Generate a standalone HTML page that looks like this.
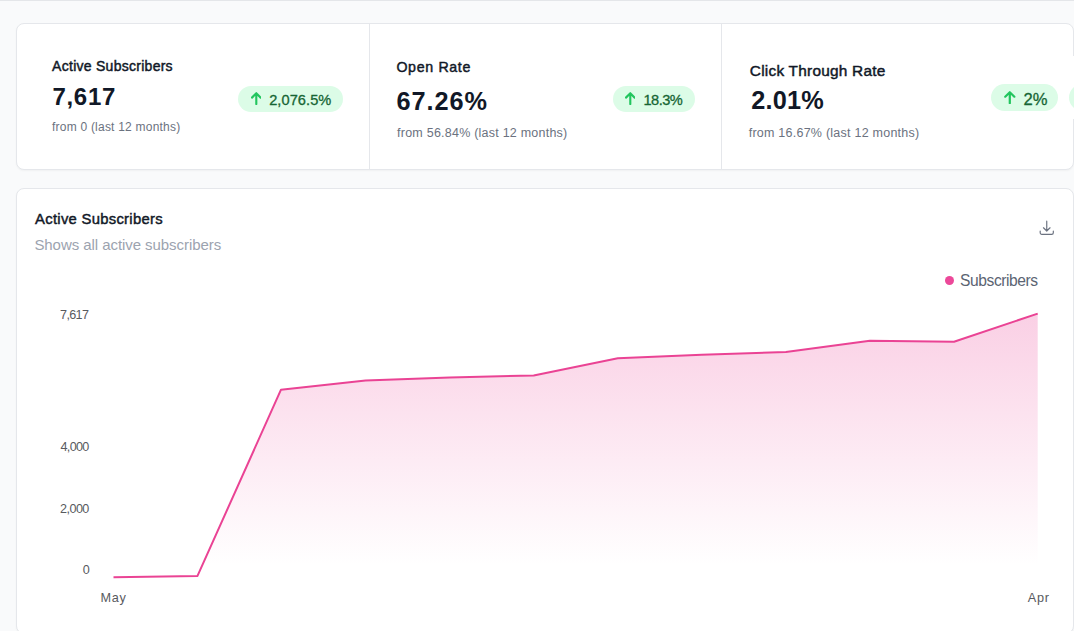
<!DOCTYPE html>
<html lang="en">
<head>
<meta charset="utf-8">
<title>Subscribers Dashboard</title>
<style>
*{box-sizing:border-box;margin:0;padding:0}
html,body{width:1074px;height:631px;overflow:hidden;background:#f9fafb}
body{position:relative;font-family:"Liberation Sans",sans-serif;color:#111827}
.topline{position:absolute;left:0;top:0;width:1074px;height:1px;background:#e4e6e9}
.card{position:absolute;background:#fff;border:1px solid #e5e7eb;border-radius:8px;box-shadow:0 1px 2px rgba(0,0,0,.04)}
#stats{left:16px;top:23px;width:1058px;height:147px}
#chart{left:16px;top:188px;width:1058px;height:446px}
.divider{position:absolute;top:-1px;width:1px;height:146px;background:#e5e7eb}
.t{position:absolute;white-space:nowrap;line-height:1}
.label{font-weight:400;color:#111827;-webkit-text-stroke:0.45px #111827}
.value{font-weight:700;color:#111827}
.sub{color:#6b7280}
.pill{position:absolute;background:#dcfce7;border-radius:14px}
.pill svg{position:absolute}
.pill .t{color:#166534;-webkit-text-stroke:0.3px #166534}
.axis{color:#585a5e}
</style>
</head>
<body>
<div class="topline"></div>

<main>
<section class="card" id="stats">
<div class="divider" style="left:352px"></div>
<div class="divider" style="left:704px"></div>
<div style="position:absolute;left:1053px;top:32px;width:4px;height:63px;background:#fff"></div>

<article class="stat">
<div class="t label" id="l1" style="left:35.1px;top:34.7px;font-size:14px;letter-spacing:0.27px">Active Subscribers</div>
<div class="t value" id="v1" style="left:35.4px;top:61.1px;font-size:24px;letter-spacing:0.72px">7,617</div>
<div class="t sub" id="s1" style="left:35px;top:96.8px;font-size:12px;letter-spacing:0.22px">from 0 (last 12 months)</div>
<div class="pill" style="left:221px;top:62px;width:105px;height:26px">
  <svg width="10.6" height="13" viewBox="0 0 11 13" preserveAspectRatio="none" style="left:12.6px;top:6.3px"><path d="M5.5 12V1.4M1 5.6L5.5 1.2L10 5.6" fill="none" stroke="#22c55e" stroke-width="2.2" stroke-linecap="round" stroke-linejoin="round"/></svg>
  <span class="t" id="p1" style="left:31.2px;top:6.7px;font-size:14.6px;letter-spacing:0.07px">2,076.5%</span>
</div>

</article>
<article class="stat">
<div class="t label" id="l2" style="left:379.4px;top:35.6px;font-size:14.2px;letter-spacing:0.67px">Open Rate</div>
<div class="t value" id="v2" style="left:379.6px;top:64.6px;font-size:25.3px;letter-spacing:0.94px">67.26%</div>
<div class="t sub" id="s2" style="left:380.1px;top:102.5px;font-size:12.5px;letter-spacing:0.23px">from 56.84% (last 12 months)</div>
<div class="pill" style="left:596px;top:62px;width:82px;height:26px">
  <svg width="10.6" height="13" viewBox="0 0 11 13" preserveAspectRatio="none" style="left:11.6px;top:6.3px"><path d="M5.5 12V1.4M1 5.6L5.5 1.2L10 5.6" fill="none" stroke="#22c55e" stroke-width="2.2" stroke-linecap="round" stroke-linejoin="round"/></svg>
  <span class="t" id="p2" style="left:30.4px;top:6.7px;font-size:14.6px;letter-spacing:-0.49px">18.3%</span>
</div>

</article>
<article class="stat">
<div class="t label" id="l3" style="left:732.8px;top:38.5px;font-size:15.4px;letter-spacing:0.24px">Click Through Rate</div>
<div class="t value" id="v3" style="left:734.2px;top:63.8px;font-size:25.3px;letter-spacing:0.23px">2.01%</div>
<div class="t sub" id="s3" style="left:731.7px;top:102.5px;font-size:12.5px;letter-spacing:0.24px">from 16.67% (last 12 months)</div>
<div class="pill" style="left:973.7px;top:59.8px;width:67.4px;height:27.3px">
  <svg width="11.6" height="13.2" viewBox="0 0 11 13" style="left:13.4px;top:7.5px"><path d="M5.5 12V1.4M1 5.6L5.5 1.2L10 5.6" fill="none" stroke="#22c55e" stroke-width="2.2" stroke-linecap="round" stroke-linejoin="round"/></svg>
  <span class="t" id="p3" style="left:32.8px;top:7.8px;font-size:16.6px;letter-spacing:0.15px">2%</span>
</div>
<div class="pill" style="left:1052px;top:59.8px;width:60px;height:27.3px"></div>
</article>
</section>

<section class="card" id="chart">
<div class="t label" id="ct" style="left:18.1px;top:22.9px;font-size:14.8px;letter-spacing:0.29px">Active Subscribers</div>
<div class="t" id="cs" style="left:17.4px;top:47.8px;font-size:15px;letter-spacing:-0.06px;color:#9ca3af">Shows all active subscribers</div>
<svg width="17.5" height="17.5" viewBox="0 0 24 24" style="position:absolute;left:1020.75px;top:30.2px"><path d="M3 16.5v2.25A2.25 2.25 0 005.25 21h13.5A2.25 2.25 0 0021 18.75V16.5M16.5 12L12 16.5m0 0L7.5 12m4.5 4.5V3" fill="none" stroke="#6b7280" stroke-width="1.6" stroke-linecap="round" stroke-linejoin="round"/></svg>

<div style="position:absolute;left:928px;top:86.6px;width:9.2px;height:9.2px;border-radius:50%;background:#ec4899"></div>
<div class="t" id="lg" style="left:943.1px;top:83.9px;font-size:15.6px;letter-spacing:-0.43px;color:#5b6472">Subscribers</div>

<svg width="1074" height="631" viewBox="0 0 1074 631" style="position:absolute;left:-17px;top:-189px;pointer-events:none">
  <defs>
    <linearGradient id="g" x1="0" y1="313" x2="0" y2="565" gradientUnits="userSpaceOnUse">
      <stop offset="0" stop-color="#ec4899" stop-opacity=".26"/>
      <stop offset="1" stop-color="#ec4899" stop-opacity="0"/>
    </linearGradient>
  </defs>
  <path d="M113.5 577.2L197.5 575.9L281 389.7L365.6 380.5L449.7 377.5L533.7 375.4L617.8 358.3L701.8 354.7L785.9 352.1L869.9 340.7L954 341.7L1037.7 313.6V565H113.5Z" fill="url(#g)"/>
  <path d="M113.5 577.2L197.5 575.9L281 389.7L365.6 380.5L449.7 377.5L533.7 375.4L617.8 358.3L701.8 354.7L785.9 352.1L869.9 340.7L954 341.7L1037.7 313.6" fill="none" stroke="#ea4394" stroke-width="2" stroke-linejoin="round" stroke-linecap="butt"/>
</svg>

<div class="t axis" id="a1" style="left:43.1px;top:119.6px;font-size:12.6px;letter-spacing:-0.66px">7,617</div>
<div class="t axis" id="a2" style="left:43.5px;top:252.1px;font-size:12.6px;letter-spacing:-0.66px">4,000</div>
<div class="t axis" id="a3" style="left:43.1px;top:313.5px;font-size:12.6px;letter-spacing:-0.56px">2,000</div>
<div class="t axis" id="a4" style="left:65.8px;top:374.8px;font-size:12.6px;letter-spacing:0px">0</div>
<div class="t axis" id="a5" style="left:83.5px;top:402.6px;font-size:12.7px;letter-spacing:0.64px">May</div>
<div class="t axis" id="a6" style="left:1010.7px;top:402.6px;font-size:12.7px;letter-spacing:0.73px">Apr</div>
</section>
</main>
</body>
</html>
